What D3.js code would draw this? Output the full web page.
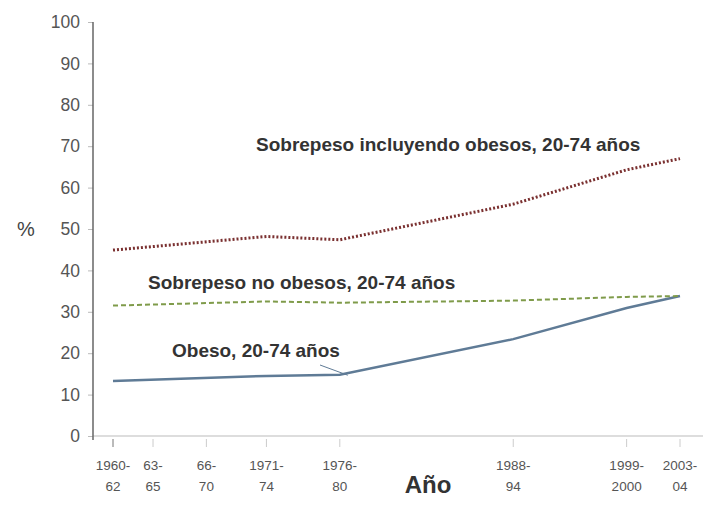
<!DOCTYPE html>
<html>
<head>
<meta charset="utf-8">
<script src="https://cdn.jsdelivr.net/npm/d3@7"></script>
<style>
  body { margin: 0; background: #fff; }
  text { font-family: "Liberation Sans", Arial, sans-serif; }
</style>
</head>
<body>
<svg width="703" height="522"></svg>
<script>
// DATA
const periods = ["1960-62", "63-65", "66-70", "1971-74", "1976-80", "1988-94", "1999-2000", "2003-04"];
const periodMid = [1961, 1964, 1968, 1972.5, 1978, 1991, 1999.5, 2003.5];
const surveyYears = [1961, 1972.5, 1978, 1991, 1999.5, 2003.5];
const sobrepesoTotal = [44.9, 48.2, 47.4, 56.0, 64.3, 67.0];
const sobrepesoNoObeso = [31.5, 32.5, 32.2, 32.7, 33.6, 33.8];
const obeso = [13.3, 14.5, 14.8, 23.4, 30.9, 33.8];
const yTicks = [0, 10, 20, 30, 40, 50, 60, 70, 80, 90, 100];

const svg = d3.select("svg");

// SCALES
const x = d3.scaleLinear().domain([1961, 2003.5]).range([113, 680]);
const y = d3.scaleLinear().domain([0, 100]).range([436, 22]);

// x axis line (light)
svg.append("line")
  .attr("x1", 93).attr("x2", 703)
  .attr("y1", y(0)).attr("y2", y(0))
  .attr("stroke", "#ddd").attr("stroke-width", 2);

// y axis
const yAxis = d3.axisLeft(y).tickValues(yTicks).tickSize(5).tickPadding(8);
const gy = svg.append("g").attr("transform", "translate(93,0)").call(yAxis);
gy.select(".domain").remove();
gy.selectAll(".tick line").attr("stroke", "#bbb");
gy.selectAll(".tick text").attr("fill", "#555").attr("font-size", 17.5);
svg.append("line")
  .attr("x1", 93).attr("x2", 93)
  .attr("y1", y(100)).attr("y2", y(0) + 4)
  .attr("stroke", "#666").attr("stroke-width", 1.5);

// x ticks + two-line labels
const xt = svg.append("g").selectAll("g")
  .data(periods)
  .enter()
  .append("g")
  .attr("transform", (d, i) => `translate(${x(periodMid[i])},0)`);
xt.append("line")
  .attr("y1", y(0) + 3).attr("y2", y(0) + 11)
  .attr("stroke", (d, i) => i === 0 ? "#777" : "#ccc");
xt.append("text")
  .attr("text-anchor", "middle")
  .attr("fill", "#555")
  .attr("font-size", 13.5)
  .each(function(d) {
    const parts = d.split("-");
    d3.select(this).selectAll("tspan")
      .data([parts[0] + "-", parts[1]])
      .enter()
      .append("tspan")
      .attr("x", 0)
      .attr("y", (t, i) => 470 + i * 21)
      .text(t => t);
  });

// axis titles
svg.append("text")
  .attr("x", 428).attr("y", 493)
  .attr("text-anchor", "middle")
  .attr("font-size", 24).attr("font-weight", "bold")
  .attr("fill", "#333")
  .text("Año");
svg.append("text")
  .attr("x", 26).attr("y", 236)
  .attr("text-anchor", "middle")
  .attr("font-size", 20)
  .attr("fill", "#444")
  .text("%");

// LINES
const line = d3.line().x((d, i) => x(surveyYears[i])).y(d => y(d));

svg.append("path")
  .datum(obeso)
  .attr("d", line)
  .attr("fill", "none")
  .attr("stroke", "#5f7b96")
  .attr("stroke-width", 2.5);

svg.append("path")
  .datum(sobrepesoNoObeso)
  .attr("d", line)
  .attr("fill", "none")
  .attr("stroke", "#7f9b4a")
  .attr("stroke-width", 2)
  .attr("stroke-dasharray", "5,3");

svg.append("path")
  .datum(sobrepesoTotal)
  .attr("d", line)
  .attr("fill", "none")
  .attr("stroke", "#7a3030")
  .attr("stroke-width", 3)
  .attr("stroke-dasharray", "2,2");

// labels
const labels = [
  { t: "Sobrepeso incluyendo obesos, 20-74 años", x: 256, y: 151 },
  { t: "Sobrepeso no obesos, 20-74 años", x: 148, y: 289 },
  { t: "Obeso, 20-74 años", x: 172, y: 357 }
];
svg.selectAll(".lab")
  .data(labels)
  .enter()
  .append("text")
  .attr("class", "lab")
  .attr("x", d => d.x).attr("y", d => d.y)
  .attr("font-size", 19).attr("font-weight", "bold")
  .attr("fill", "#333")
  .text(d => d.t);

// leader line for obese label
svg.append("line")
  .attr("x1", 320).attr("y1", 365)
  .attr("x2", x(1978) + 8).attr("y2", y(obeso[2]) + 0.5)
  .attr("stroke", "#5f7b96").attr("stroke-width", 1);
</script>
</body>
</html>
